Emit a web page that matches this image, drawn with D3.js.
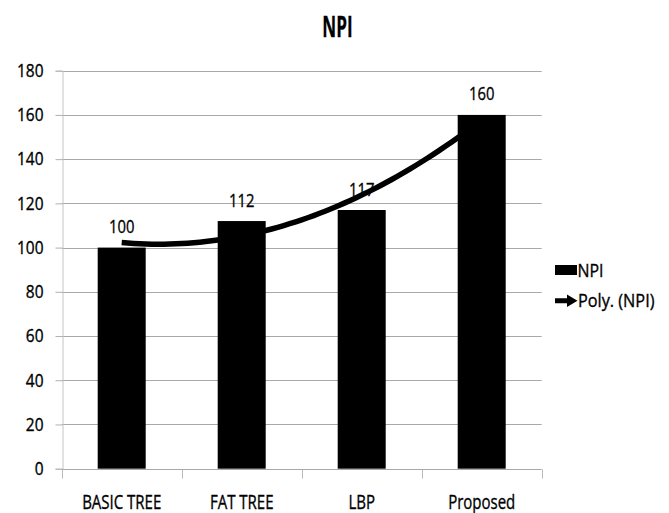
<!DOCTYPE html>
<html>
<head>
<meta charset="utf-8">
<script src="https://cdn.jsdelivr.net/npm/d3@7"></script>
<style>
  html, body { margin: 0; padding: 0; background: #fff; }
  svg { display: block; }
  text { font-family: "Open Sans", "Liberation Sans", sans-serif; fill: #000; stroke: #000; stroke-width: 0.35px; }
</style>
</head>
<body>
<svg id="chart" width="669" height="513"></svg>
<script>
// Chart data
const categories = ["BASIC TREE", "FAT TREE", "LBP", "Proposed"];
const npiValues = [100, 112, 117, 160];
const yTicks = [0, 20, 40, 60, 80, 100, 120, 140, 160, 180];
const chartTitle = "NPI";
const legendLabels = ["NPI", "Poly. (NPI)"];
const trendOrder = 2;

const svg = d3.select("#chart");
const margin = { left: 61.7, right: 541.7, top: 70.7, bottom: 468.7 };

const x = d3.scaleBand()
  .domain(categories)
  .range([margin.left, margin.right])
  .paddingInner(0.6)
  .paddingOuter(0.3);

const y = d3.scaleLinear()
  .domain([0, 180])
  .range([margin.bottom, margin.top]);

// helper: condensed text drawn with a horizontal squeeze
function label(g, str, px, py, size, sx, anchor, weight) {
  return g.append("text")
    .attr("transform", `translate(${px},${py}) scale(${sx},1)`)
    .attr("text-anchor", anchor)
    .attr("font-size", size)
    .attr("font-weight", weight || "normal")
    .text(str);
}

// gridlines
svg.append("g")
  .selectAll("line")
  .data(yTicks.filter(d => d > 0))
  .join("line")
  .attr("x1", margin.left).attr("x2", margin.right)
  .attr("y1", d => Math.round(y(d)) + 0.5).attr("y2", d => Math.round(y(d)) + 0.5)
  .attr("stroke", "#a8a8a8").attr("stroke-width", 1);

// y axis with outward ticks
const yAxis = svg.append("g")
  .attr("transform", `translate(${Math.round(margin.left) + 0.5},0)`)
  .call(d3.axisLeft(y).tickValues(yTicks).tickSize(7).tickFormat(""));
yAxis.select(".domain").attr("stroke", "#c4c4c4");
yAxis.selectAll(".tick line").attr("stroke", "#b0b0b0");
yTicks.forEach(t => {
  label(svg, String(t), 43.5, y(t) + 6.3, 18, 0.86, "end");
});

// x axis line and category boundary ticks
const xg = svg.append("g");
const y0 = Math.round(y(0)) + 0.5;
xg.append("line")
  .attr("x1", margin.left).attr("x2", margin.right)
  .attr("y1", y0).attr("y2", y0)
  .attr("stroke", "#a8a8a8");
d3.range(categories.length + 1).forEach(i => {
  const px = Math.round(x.range()[0] + i * x.step()) + 0.5;
  xg.append("line")
    .attr("x1", px).attr("x2", px)
    .attr("y1", y0).attr("y2", y0 + 9)
    .attr("stroke", "#b8b8b8");
});

// bars
svg.append("g")
  .selectAll("rect")
  .data(npiValues)
  .join("rect")
  .attr("x", (d, i) => x(categories[i]))
  .attr("y", d => y(d))
  .attr("width", x.bandwidth())
  .attr("height", d => y(0) - y(d))
  .attr("fill", "#000");

// polynomial trendline (least squares fit of the bar values)
function polyFit(xs, ys, order) {
  const n = order + 1;
  const A = [];
  for (let r = 0; r < n; r++) {
    A.push([]);
    for (let c = 0; c < n; c++) A[r].push(d3.sum(xs, v => Math.pow(v, r + c)));
    A[r].push(d3.sum(xs, (v, k) => Math.pow(v, r) * ys[k]));
  }
  for (let i = 0; i < n; i++) {
    let p = i;
    for (let k = i + 1; k < n; k++) if (Math.abs(A[k][i]) > Math.abs(A[p][i])) p = k;
    [A[i], A[p]] = [A[p], A[i]];
    for (let k = i + 1; k < n; k++) {
      const f = A[k][i] / A[i][i];
      for (let c = i; c <= n; c++) A[k][c] -= f * A[i][c];
    }
  }
  const coef = new Array(n).fill(0);
  for (let i = n - 1; i >= 0; i--) {
    let s = A[i][n];
    for (let c = i + 1; c < n; c++) s -= A[i][c] * coef[c];
    coef[i] = s / A[i][i];
  }
  return v => coef.reduce((acc, c, k) => acc + c * Math.pow(v, k), 0);
}
const idx = npiValues.map((d, i) => i + 1);
const trend = polyFit(idx, npiValues, trendOrder);
const xPos = t => x(categories[0]) + x.bandwidth() / 2 + (t - 1) * x.step();
const samples = d3.range(1, categories.length + 0.001, 0.05);
svg.append("path")
  .datum(samples)
  .attr("d", d3.line().x(t => xPos(t)).y(t => y(trend(t))).curve(d3.curveLinear))
  .attr("fill", "none")
  .attr("stroke", "#000")
  .attr("stroke-width", 5.5)
  .attr("stroke-linecap", "butt");

// value labels
npiValues.forEach((v, i) => {
  label(svg, String(v), x(categories[i]) + x.bandwidth() / 2, y(v) - 14.5, 19, 0.78, "middle");
});

// category labels
categories.forEach(c => {
  label(svg, c, x(c) + x.bandwidth() / 2, 508.5, 19.5, 0.77, "middle");
});

// title
label(svg, chartTitle, 337.5, 36.7, 28, 0.61, "middle", "bold");

// legend
const lg = svg.append("g");
lg.append("rect").attr("x", 555).attr("y", 265).attr("width", 22).attr("height", 10).attr("fill", "#000");
label(lg, legendLabels[0], 577.5, 276.7, 18.5, 0.86, "start");
lg.append("path")
  .attr("d", "M555,298.2 L567,298.2 L567,294.5 L577.5,300.7 L567,306.9 L567,303.2 L555,303.2 Z")
  .attr("fill", "#000");
label(lg, legendLabels[1], 578, 306.5, 18.5, 0.88, "start");
</script>
</body>
</html>
